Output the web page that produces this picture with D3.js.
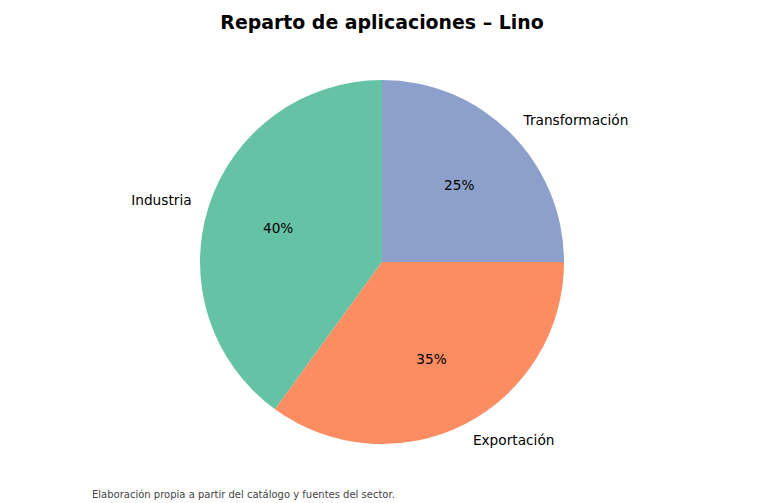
<!DOCTYPE html>
<html>
<head>
<meta charset="utf-8">
<script src="https://cdn.jsdelivr.net/npm/d3@7"></script>
<style>
  body { margin: 0; background: #fff; }
  text { font-family: "DejaVu Sans", sans-serif; }
</style>
</head>
<body>
<div id="chart"></div>
<script>
// data
const categories = ["Industria", "Exportación", "Transformación"];
const shares = [40, 35, 25];
const colors = ["#66c2a5", "#fc8d62", "#8da0cb"];

const width = 765, height = 503;
const cx = 382, cy = 262, radius = 182;

const svg = d3.select("#chart").append("svg")
  .attr("width", width)
  .attr("height", height);

svg.append("text")
  .attr("x", cx).attr("y", 29)
  .attr("text-anchor", "middle")
  .attr("font-size", 18.9)
  .attr("font-weight", "bold")
  .text("Reparto de aplicaciones – Lino");

// matplotlib style: start at top, go counterclockwise
const pie = d3.pie()
  .sort(null)
  .startAngle(0)
  .endAngle(-2 * Math.PI)
  .value(d => d);

const arcs = pie(shares);
const arc = d3.arc().innerRadius(0).outerRadius(radius);
const pctArc = d3.arc().innerRadius(radius * 0.6).outerRadius(radius * 0.6);
const lblArc = d3.arc().innerRadius(radius * 1.1).outerRadius(radius * 1.1);

const g = svg.append("g").attr("transform", `translate(${cx},${cy})`);

g.selectAll("path")
  .data(arcs)
  .join("path")
  .attr("d", arc)
  .attr("fill", (d, i) => colors[i]);

g.selectAll("text.pct")
  .data(arcs)
  .join("text")
  .attr("class", "pct")
  .attr("x", d => pctArc.centroid(d)[0])
  .attr("y", d => pctArc.centroid(d)[1])
  .attr("dy", "0.35em")
  .attr("text-anchor", "middle")
  .attr("font-size", 13.7)
  .text(d => d.data + "%");

g.selectAll("text.lbl")
  .data(arcs)
  .join("text")
  .attr("class", "lbl")
  .attr("x", d => lblArc.centroid(d)[0])
  .attr("y", d => lblArc.centroid(d)[1])
  .attr("dy", "0.35em")
  .attr("text-anchor", d => lblArc.centroid(d)[0] < 0 ? "end" : "start")
  .attr("font-size", 13.7)
  .text((d, i) => categories[i]);

svg.append("text")
  .attr("x", 92).attr("y", 498)
  .attr("font-size", 10)
  .attr("fill", "#444")
  .text("Elaboración propia a partir del catálogo y fuentes del sector.");
</script>
</body>
</html>
